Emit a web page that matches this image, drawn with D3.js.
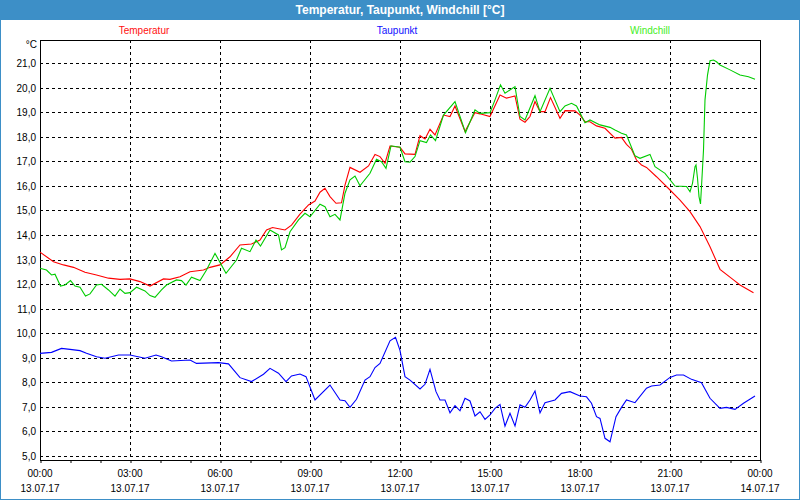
<!DOCTYPE html>
<html><head><meta charset="utf-8">
<script src="https://cdn.jsdelivr.net/npm/d3@7"></script>
<style>
html,body{margin:0;padding:0;background:#fff;}
svg{display:block;}
</style></head>
<body>
<svg id="c" width="800" height="500"></svg>
<script>
// ---- data (minutes since 13.07.17 00:00, °C) ----
const title = "Temperatur, Taupunkt, Windchill [°C]";
const seriesNames = ["Temperatur", "Taupunkt", "Windchill"];
const yTicks = [5,6,7,8,9,10,11,12,13,14,15,16,17,18,19,20,21];
const xTickHours = [0,3,6,9,12,15,18,21,24];

const temperatur = [[0,13.3],[27,12.91],[47,12.78],[67,12.68],[90,12.48],[113,12.37],[137,12.24],[160,12.19],[180,12.21],[200,12.10],[220,11.92],[247,12.21],[260,12.19],[280,12.30],[300,12.50],[327,12.57],[340,12.68],[360,12.78],[380,13.11],[400,13.59],[423,13.63],[440,13.79],[453,14.20],[465,14.3],[480,14.24],[490,14.20],[503,14.40],[520,14.85],[537,15.22],[550,15.38],[560,15.74],[570,15.90],[580,15.56],[592,15.29],[603,15.31],[610,16.03],[620,16.75],[640,16.55],[657,16.81],[670,17.28],[680,17.19],[690,16.92],[700,17.62],[720,17.57],[730,17.30],[750,17.28],[760,18.04],[770,17.91],[780,18.30],[790,18.07],[807,18.88],[820,18.82],[830,19.25],[850,18.21],[870,18.98],[880,18.93],[900,18.82],[920,19.70],[933,19.57],[950,19.66],[960,18.71],[970,18.59],[980,18.82],[990,19.43],[1000,19.02],[1010,19.02],[1021,19.59],[1040,18.75],[1050,19.06],[1070,19.05],[1080,18.88],[1090,18.61],[1100,18.61],[1113,18.44],[1130,18.34],[1150,17.94],[1163,17.97],[1173,17.69],[1183,17.49],[1193,17.05],[1203,16.85],[1213,16.75],[1233,16.37],[1260,15.83],[1280,15.42],[1300,14.95],[1320,14.34],[1340,13.52],[1360,12.60],[1387,12.17],[1400,11.96],[1427,11.65]];

const taupunkt = [[0,9.18],[23,9.22],[43,9.38],[60,9.34],[80,9.29],[93,9.18],[113,9.04],[130,8.98],[157,9.11],[180,9.11],[210,8.98],[232,9.11],[243,9.04],[263,8.87],[300,8.91],[313,8.77],[357,8.80],[377,8.75],[400,8.19],[423,8.03],[447,8.33],[460,8.57],[477,8.37],[492,8.03],[503,8.26],[520,8.34],[532,8.23],[550,7.28],[580,7.89],[600,7.28],[610,7.25],[620,6.98],[633,7.31],[650,8.09],[660,8.23],[670,8.60],[680,8.77],[700,9.69],[711,9.83],[720,9.3],[730,8.23],[740,8.09],[760,7.73],[770,7.92],[780,8.53],[792,7.62],[800,7.28],[810,7.28],[820,6.76],[830,7.05],[840,6.84],[850,7.35],[860,7.24],[870,6.63],[880,6.80],[890,6.49],[900,6.67],[910,6.94],[920,7.10],[930,6.22],[940,6.74],[950,6.22],[960,7.08],[970,6.98],[980,7.28],[990,7.65],[1000,6.76],[1010,7.17],[1030,7.28],[1043,7.55],[1060,7.62],[1080,7.44],[1093,7.41],[1103,7.15],[1113,6.60],[1120,6.53],[1130,5.72],[1140,5.58],[1152,6.60],[1163,6.98],[1173,7.28],[1190,7.17],[1213,7.76],[1223,7.85],[1240,7.89],[1260,8.20],[1273,8.30],[1287,8.30],[1303,8.12],[1323,7.98],[1340,7.35],[1360,6.94],[1373,6.98],[1390,6.90],[1407,7.15],[1430,7.44]];

const windchill = [[0,12.64],[13,12.57],[23,12.37],[30,12.40],[41,11.92],[50,11.96],[61,12.14],[70,11.92],[80,11.87],[91,11.51],[100,11.60],[113,11.96],[123,11.99],[137,11.76],[150,11.51],[160,11.80],[170,11.62],[180,11.65],[193,11.87],[210,11.72],[220,11.53],[230,11.46],[243,11.76],[253,11.96],[273,12.17],[283,12.14],[292,11.96],[303,12.28],[320,12.14],[333,12.57],[350,13.25],[372,12.44],[393,12.98],[403,13.46],[420,13.32],[432,13.79],[441,13.55],[460,14.20],[477,14.0],[483,13.39],[490,13.48],[500,14.13],[517,14.61],[530,14.88],[540,14.74],[560,15.25],[570,15.15],[580,14.74],[590,14.84],[600,14.61],[610,15.70],[620,16.24],[630,16.40],[640,16.00],[660,16.51],[673,17.08],[683,16.98],[692,16.71],[702,17.63],[720,17.57],[730,16.98],[740,16.96],[750,17.19],[760,17.84],[773,17.76],[781,18.07],[791,17.84],[807,18.88],[830,19.43],[851,18.16],[870,19.09],[880,18.95],[900,18.98],[910,19.50],[921,20.11],[930,19.77],[950,20.04],[960,18.82],[970,18.68],[990,19.67],[1000,19.02],[1020,19.97],[1040,19.02],[1050,19.25],[1063,19.36],[1073,19.25],[1090,18.57],[1100,18.68],[1120,18.48],[1140,18.38],[1150,18.27],[1163,18.14],[1173,18.07],[1190,17.22],[1200,17.12],[1220,17.28],[1230,16.78],[1250,16.51],[1270,15.99],[1293,15.97],[1300,15.76],[1305,16.10],[1310,16.78],[1312,16.85],[1315,16.31],[1318,15.56],[1321,15.26],[1323,15.97],[1327,17.46],[1330,19.50],[1335,20.51],[1340,21.09],[1347,21.12],[1353,21.05],[1360,20.92],[1380,20.72],[1400,20.51],[1417,20.44],[1430,20.34]];

// ---- drawing ----
const svg = d3.select("#c");
const W = 800, H = 500;
const frameColor = "#3d8fc7";
const font = "'Liberation Sans', Arial, sans-serif";

const t0 = new Date(2017, 6, 13, 0, 0);
const t1 = new Date(2017, 6, 14, 0, 0);
const pL = 40, pR = 760, pT = 40, pB = 460;
const x = d3.scaleTime().domain([t0, t1]).range([pL, pR]);
const y = d3.scaleLinear().domain([5, 21]).range([456, 63]);
const toDate = m => new Date(t0.getTime() + m * 60000);

// background & frame
svg.append("rect").attr("width", W).attr("height", H).attr("fill", "#fff");
svg.append("rect").attr("x", 0.5).attr("y", 0.5).attr("width", W - 1).attr("height", H - 1)
  .attr("fill", "none").attr("stroke", frameColor).attr("stroke-width", 1);
svg.append("rect").attr("x", 0).attr("y", 0).attr("width", W).attr("height", 20).attr("fill", frameColor);
svg.append("text").attr("x", W / 2).attr("y", 14).attr("text-anchor", "middle")
  .attr("fill", "#fff").attr("font-family", "'Liberation Sans Narrow', " + font)
  .attr("font-weight", "bold").attr("font-size", 12).text(title);

// legend
const colors = ["#ff0000", "#0000ff", "#00cc00"];
const legendColors = ["#ff1010", "#1010ff", "#44ee22"];
const lx = d3.scalePoint().domain(seriesNames).range([144, 650]);
svg.append("g").selectAll("text").data(seriesNames).join("text")
  .attr("x", d => lx(d)).attr("y", 34).attr("text-anchor", "middle")
  .attr("font-family", font).attr("font-size", 10)
  .attr("fill", (d, i) => legendColors[i]).text(d => d);

// grid
const g = svg.append("g");
g.selectAll("line.h").data(yTicks).join("line").attr("class", "h")
  .attr("x1", pL).attr("x2", pR)
  .attr("y1", d => Math.round(y(d)) + 0.5).attr("y2", d => Math.round(y(d)) + 0.5)
  .attr("stroke", "#000").attr("stroke-dasharray", "3,3");
g.selectAll("line.v").data(xTickHours.slice(1, -1)).join("line").attr("class", "v")
  .attr("x1", d => Math.round(x(toDate(d * 60))) + 0.5).attr("x2", d => Math.round(x(toDate(d * 60))) + 0.5)
  .attr("y1", pT).attr("y2", pB)
  .attr("stroke", "#000").attr("stroke-dasharray", "3,3");

// y labels
svg.append("g").selectAll("text").data(yTicks).join("text")
  .attr("x", 36).attr("y", d => y(d) + 4).attr("text-anchor", "end")
  .attr("font-family", font).attr("font-size", 10).attr("fill", "#000")
  .text(d => d3.format(".1f")(d).replace(".", ","));
svg.append("text").attr("x", 37).attr("y", 48).attr("text-anchor", "end")
  .attr("font-family", font).attr("font-size", 10).text("°C");

// x axis with hourly ticks
const xAxis = d3.axisBottom(x).ticks(d3.timeHour.every(1)).tickSize(3).tickFormat("");
const ax = svg.append("g").attr("transform", `translate(0.5,${pB})`).call(xAxis);
ax.select(".domain").remove();
ax.selectAll("line").attr("stroke", "#000");

const xl = svg.append("g");
const fmtT = d3.timeFormat("%H:%M"), fmtD = d3.timeFormat("%d.%m.%y");
xTickHours.forEach(h => {
  const d = toDate(h * 60);
  xl.append("text").attr("x", x(d)).attr("y", 477).attr("text-anchor", "middle")
    .attr("font-family", font).attr("font-size", 10).text(fmtT(d));
  xl.append("text").attr("x", x(d)).attr("y", 492).attr("text-anchor", "middle")
    .attr("font-family", font).attr("font-size", 10).text(fmtD(d));
});

// plot frame
svg.append("rect").attr("x", pL + 0.5).attr("y", pT + 0.5)
  .attr("width", pR - pL).attr("height", pB - pT)
  .attr("fill", "none").attr("stroke", "#000");

// lines
const line = d3.line().x(d => x(toDate(d[0]))).y(d => y(d[1]));
[[temperatur, colors[0]], [taupunkt, colors[1]], [windchill, colors[2]]].forEach(([data, c]) => {
  svg.append("path").datum(data).attr("d", line).attr("fill", "none")
    .attr("stroke", c).attr("stroke-width", 1.1);
});
</script>
</body></html>
